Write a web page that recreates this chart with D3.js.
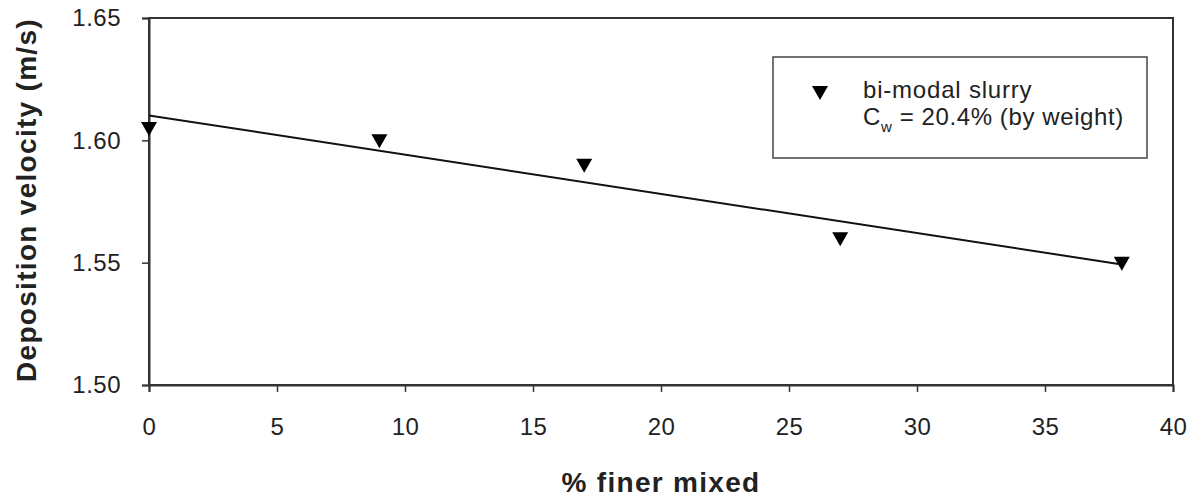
<!DOCTYPE html>
<html>
<head>
<meta charset="utf-8">
<script src="https://cdn.jsdelivr.net/npm/d3@7"></script>
<style>
  body { margin: 0; background: #fff; }
  text { font-family: "Liberation Sans", Arial, sans-serif; fill: #222; }
</style>
</head>
<body>
<div id="chart"></div>
<script>
// data
let finer = [0, 9, 17, 27, 38];
let velocity = [1.605, 1.60, 1.59, 1.56, 1.55];
let xTicks = [0, 5, 10, 15, 20, 25, 30, 35, 40];
let yTicks = [1.50, 1.55, 1.60, 1.65];

let margin = {top: 18, right: 24, bottom: 112, left: 149},
    width = 1197 - margin.left - margin.right,
    height = 497 - margin.top - margin.bottom;

let x = d3.scaleLinear().domain([0, 40]).range([0, width]);
let y = d3.scaleLinear().domain([1.50, 1.65]).range([height, 0]);

let svg = d3.select("#chart").append("svg")
    .attr("width", 1197)
    .attr("height", 497)
  .append("g")
    .attr("transform", "translate(" + margin.left + "," + margin.top + ")");

// frame
svg.append("rect")
    .attr("width", width).attr("height", height)
    .attr("fill", "none").attr("stroke", "#333").attr("stroke-width", 2);

// axes
let xAxis = svg.append("g")
    .attr("transform", "translate(0," + height + ")")
    .call(d3.axisBottom(x).tickValues(xTicks).tickSize(7).tickPadding(26).tickFormat(d3.format("d")));
let yAxis = svg.append("g")
    .call(d3.axisLeft(y).tickValues(yTicks).tickSize(7).tickPadding(21).tickFormat(d3.format(".2f")));
[xAxis, yAxis].forEach(function(a) {
  a.select(".domain").attr("stroke", "#333").attr("stroke-width", 2);
  a.selectAll(".tick line").attr("stroke", "#333").attr("stroke-width", 1.5);
  a.selectAll(".tick text")
      .style("font-size", "24px").style("letter-spacing", "0.5px")
      .style("font-family", "Liberation Sans, Arial, sans-serif").attr("fill", "#222");
});

// linear trend line (least squares)
let mx = d3.mean(finer), my = d3.mean(velocity);
let sxy = d3.sum(finer, function(d, i) { return (d - mx) * (velocity[i] - my); });
let sxx = d3.sum(finer, function(d) { return (d - mx) * (d - mx); });
let slope = sxy / sxx, icpt = my - slope * mx;
let xr = d3.extent(finer);
svg.append("line")
    .attr("x1", x(xr[0])).attr("y1", y(icpt + slope * xr[0]))
    .attr("x2", x(xr[1])).attr("y2", y(icpt + slope * xr[1]))
    .attr("stroke", "#111").attr("stroke-width", 2);

// markers
let tri = "M-8,-6L8,-6L0,8Z";
svg.selectAll(".pt")
    .data(finer)
    .enter().append("path")
    .attr("class", "pt")
    .attr("d", tri)
    .attr("transform", function(d, i) { return "translate(" + x(d) + "," + y(velocity[i]) + ")"; })
    .attr("fill", "#000");

// legend
let lg = svg.append("g").attr("transform", "translate(" + (773 - margin.left) + "," + (57 - margin.top) + ")");
lg.append("rect").attr("width", 374).attr("height", 101)
    .attr("fill", "#fff").attr("stroke", "#444").attr("stroke-width", 1.5);
lg.append("path").attr("d", tri).attr("transform", "translate(47,35)").attr("fill", "#000");
lg.append("text").attr("x", 90).attr("y", 41)
    .style("font-size", "24px").style("letter-spacing", "0.8px")
    .text("bi-modal slurry");
let t2 = lg.append("text").attr("x", 90).attr("y", 68)
    .style("font-size", "24px").style("letter-spacing", "0.6px");
t2.append("tspan").text("C");
t2.append("tspan").attr("dy", 7).style("font-size", "15px").text("w");
t2.append("tspan").attr("dy", -7).text(" = 20.4% (by weight)");

// axis titles
svg.append("text")
    .attr("x", 661 - margin.left).attr("y", 492 - margin.top)
    .attr("text-anchor", "middle")
    .style("font-size", "28px").style("font-weight", "bold").style("letter-spacing", "1.3px")
    .text("% finer mixed");
svg.append("text")
    .attr("transform", "rotate(-90)")
    .attr("x", -(200 - margin.top)).attr("y", 36 - margin.left)
    .attr("text-anchor", "middle")
    .style("font-size", "28px").style("font-weight", "bold").style("letter-spacing", "1.3px")
    .text("Deposition velocity (m/s)");
</script>
</body>
</html>
